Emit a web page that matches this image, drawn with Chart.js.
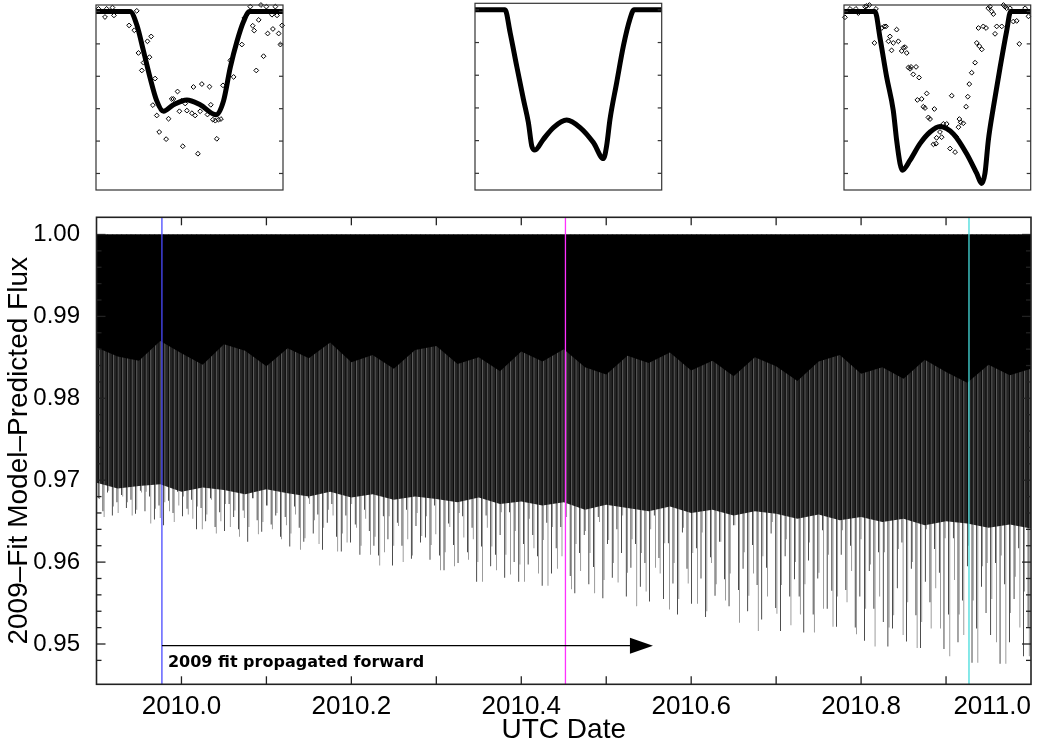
<!DOCTYPE html>
<html>
<head>
<meta charset="utf-8">
<script src="https://cdn.jsdelivr.net/npm/chart.js@4"></script>
<style>
  html, body { margin: 0; padding: 0; background: #fff; overflow: hidden; }
  #wrap { position: relative; width: 1038px; height: 740px; }
  canvas { position: absolute; }
</style>
</head>
<body>
<div id="wrap">
  <canvas id="main" width="1038" height="740" style="left:0;top:0"></canvas>
  <canvas id="in1" width="204" height="196" style="left:88px;top:0"></canvas>
  <canvas id="in2" width="204" height="196" style="left:467px;top:0"></canvas>
  <canvas id="in3" width="204" height="196" style="left:836px;top:0"></canvas>
</div>
<script>
// ---- main panel data ----
const xMin = 2009.9, xMax = 2011.0
const yMin = 0.94508, yMax = 1.0021
const xLabelYears = [2010.0, 2010.2, 2010.4, 2010.6, 2010.8, 2011.0]
const yLabelValues = [0.95, 0.96, 0.97, 0.98, 0.99, 1.00]

// bottom of each eclipse spike, left to right (primary = black, secondary = grey)
const spikeMinima = [
  0.9678,0.9662,0.9685,0.9657,0.9673,0.9682,0.9666,0.9676,0.9659,0.9687,
  0.9662,0.9680,0.9652,0.9669,0.9645,0.9675,0.9660,0.9686,0.9656,0.9665,
  0.9676,0.9640,0.9666,0.9650,0.9678,0.9643,0.9661,0.9638,0.9671,0.9655,
  0.9640,0.9663,0.9625,0.9678,0.9651,0.9637,0.9669,0.9646,0.9657,0.9631,
  0.9655,0.9619,0.9668,0.9642,0.9625,0.9678,0.9635,0.9658,0.9615,0.9648,
  0.9671,0.9631,0.9613,0.9657,0.9624,0.9646,0.9609,0.9664,0.9638,0.9620,
  0.9608,0.9656,0.9628,0.9596,0.9648,0.9620,0.9664,0.9604,0.9644,0.9624,
  0.9630,0.9603,0.9669,0.9608,0.9590,0.9647,0.9621,0.9599,0.9656,0.9612,
  0.9642,0.9576,0.9619,0.9657,0.9595,0.9609,0.9633,0.9581,0.9661,0.9600,
  0.9576,0.9622,0.9597,0.9633,0.9607,0.9571,0.9648,0.9586,0.9617,0.9643,
  0.9649,0.9583,0.9562,0.9611,0.9633,0.9573,0.9594,0.9655,0.9556,0.9622,
  0.9581,0.9640,0.9611,0.9558,0.9593,0.9622,0.9570,0.9599,0.9552,0.9657,
  0.9605,0.9555,0.9623,0.9574,0.9536,0.9636,0.9592,0.9549,0.9617,0.9580,
  0.9533,0.9606,0.9559,0.9625,0.9579,0.9546,0.9645,0.9566,0.9592,0.9540,
  0.9621,0.9572,0.9530,0.9593,0.9635,0.9544,0.9516,0.9607,0.9558,0.9579,
  0.9558,0.9514,0.9602,0.9536,0.9580,0.9639,0.9543,0.9565,0.9521,0.9609,
  0.9566,0.9620,0.9520,0.9558,0.9504,0.9589,0.9543,0.9612,0.9527,0.9497,
  0.9519,0.9568,0.9624,0.9503,0.9592,0.9535,0.9495,0.9576,0.9551,0.9616,
  0.9587,0.9494,0.9536,0.9629,0.9502,0.9553,0.9595,0.9477,0.9519,0.9570,
  0.9538,0.9511,0.9599,0.9476,0.9573,0.9502,0.9555,0.9617,0.9485,0.9520
]
const spikeMinimaB = [
  0.9677,0.9655,0.9687,0.9668,0.9660,0.9680,0.9673,0.9657,0.9664,0.9685,
  0.9686,0.9647,0.9665,0.9654,0.9673,0.9662,0.9649,0.9669,0.9680,0.9658,
  0.9653,0.9668,0.9640,0.9658,0.9676,0.9635,0.9650,0.9671,0.9643,0.9663,
  0.9631,0.9654,0.9643,0.9678,0.9634,0.9649,0.9669,0.9640,0.9660,0.9628,
  0.9645,0.9635,0.9658,0.9615,0.9629,0.9671,0.9651,0.9622,0.9642,0.9664,
  0.9657,0.9613,0.9635,0.9624,0.9671,0.9642,0.9620,0.9653,0.9609,0.9631,
  0.9596,0.9612,0.9656,0.9620,0.9644,0.9600,0.9628,0.9608,0.9660,0.9632,
  0.9656,0.9621,0.9634,0.9590,0.9612,0.9643,0.9595,0.9660,0.9630,0.9603,
  0.9628,0.9600,0.9576,0.9642,0.9619,0.9590,0.9661,0.9609,0.9585,0.9638,
  0.9597,0.9576,0.9653,0.9617,0.9586,0.9627,0.9571,0.9643,0.9592,0.9607,
  0.9655,0.9567,0.9622,0.9589,0.9638,0.9611,0.9562,0.9649,0.9578,0.9627,
  0.9599,0.9575,0.9657,0.9587,0.9628,0.9546,0.9611,0.9564,0.9640,0.9593,
  0.9586,0.9623,0.9542,0.9599,0.9555,0.9642,0.9574,0.9611,0.9549,0.9636,
  0.9540,0.9599,0.9573,0.9625,0.9553,0.9586,0.9645,0.9526,0.9612,0.9559,
  0.9586,0.9516,0.9607,0.9558,0.9649,0.9537,0.9572,0.9628,0.9523,0.9600,
  0.9536,0.9573,0.9624,0.9514,0.9587,0.9543,0.9609,0.9521,0.9558,0.9639,
  0.9551,0.9589,0.9512,0.9628,0.9543,0.9597,0.9497,0.9558,0.9612,0.9520,
  0.9535,0.9616,0.9511,0.9551,0.9600,0.9495,0.9527,0.9640,0.9519,0.9568,
  0.9519,0.9629,0.9485,0.9578,0.9536,0.9511,0.9620,0.9553,0.9477,0.9595,
  0.9599,0.9555,0.9502,0.9608,0.9476,0.9538,0.9582,0.9520,0.9564,0.9485
]

// dates at which the edges of the dark layers were read
const layerDates = [2009.9, 2009.925, 2009.95, 2009.975, 2010.0, 2010.025, 2010.05, 2010.075, 2010.1, 2010.125,
  2010.15, 2010.175, 2010.2, 2010.225, 2010.25, 2010.275, 2010.3, 2010.325, 2010.35, 2010.375,
  2010.4, 2010.425, 2010.45, 2010.475, 2010.5, 2010.525, 2010.55, 2010.575, 2010.6, 2010.625,
  2010.65, 2010.675, 2010.7, 2010.725, 2010.75, 2010.775, 2010.8, 2010.825, 2010.85, 2010.875,
  2010.9, 2010.925, 2010.95, 2010.975, 2011.0]
// lower edge of the dense grey band
const bandFloor = [0.9697,0.9690,0.9693,0.9695,0.9686,0.9691,0.9688,0.9683,0.9689,0.9684,
  0.9680,0.9686,0.9679,0.9683,0.9676,0.9680,0.9677,0.9673,0.9679,0.9671,
  0.9674,0.9669,0.9673,0.9664,0.9670,0.9666,0.9662,0.9668,0.9660,0.9664,
  0.9657,0.9662,0.9659,0.9653,0.9658,0.9651,0.9655,0.9649,0.9653,0.9645,
  0.9650,0.9647,0.9642,0.9646,0.9641]
// lower edge of the solid black area
const blackFloor = [0.9862,0.9851,0.9846,0.9870,0.9855,0.9841,0.9866,0.9858,0.9839,0.9861,
  0.9849,0.9868,0.9844,0.9853,0.9836,0.9859,0.9864,0.9842,0.9850,0.9833,
  0.9857,0.9845,0.9860,0.9838,0.9829,0.9852,0.9843,0.9856,0.9834,0.9846,
  0.9827,0.9850,0.9839,0.9821,0.9845,0.9853,0.9830,0.9838,0.9824,0.9847,
  0.9832,0.9819,0.9841,0.9828,0.9836]

const markerDates = [2009.977, 2010.452, 2010.927]
const markerColors = ['#4a4aff', '#ff30ff', '#45dcdc']

const arrowStart = 2009.977, arrowTip = 2010.555, arrowFlux = 0.9498
const arrowLabel = '2009 fit propagated forward'

// ---- inset data (x = position across the eclipse window, y = flux) ----
const insetTicks = [1.00, 0.99, 0.98, 0.97, 0.96, 0.95]

const model1X = [0, 0.182, 0.218, 0.254, 0.289, 0.325, 0.361, 0.414, 0.486, 0.557, 0.643, 0.682, 0.718, 0.754, 0.789, 0.821, 1]
const model1Y = [1.0, 1.0, 0.9959, 0.9878, 0.9796, 0.9724, 0.9692, 0.9712, 0.9727, 0.9712, 0.9681, 0.9724, 0.9827, 0.9908, 0.9969, 1.0, 1.0]
const obs1X = [0.013,0.048,0.057,0.088,0.096,0.177,0.205,0.218,0.227,0.245,0.254,0.275,0.286,0.295,0.316,0.304,0.325,0.338,0.352,0.375,
  0.388,0.405,0.414,0.436,0.446,0.459,0.464,0.477,0.486,0.513,0.521,0.530,0.545,0.557,0.566,0.596,0.607,0.614,0.625,0.638,
  0.646,0.655,0.668,0.679,0.718,0.736,0.780,0.793,0.807,0.825,0.838,0.846,0.857,0.870,0.882,0.896,0.911,0.918,0.946,0.959,
  0.968,0.977,0.986,0.995,0.941]
const obs1Y = [1.0008,0.9983,1.0008,1.0012,0.9988,0.9957,0.9942,1.0002,0.9872,0.9818,0.9842,0.9908,0.9859,0.9923,0.9793,0.9711,0.9679,0.9628,0.9694,0.9606,
  0.9669,0.9730,0.9730,0.9753,0.9692,0.9724,0.9584,0.9716,0.9694,0.9686,0.9767,0.9679,0.9561,0.9692,0.9776,0.9682,0.9768,0.9712,0.9666,0.9663,
  0.9607,0.9666,0.9668,0.9772,0.9849,0.9798,0.9898,0.9980,0.9990,1.0015,0.9956,0.9941,0.9818,0.9974,1.0020,0.9862,1.0015,0.9932,0.9946,1.0015,
  0.9988,0.9932,0.9898,0.9957,0.9990]

const model2X = [0, 0.161, 0.188, 0.223, 0.259, 0.286, 0.304, 0.321, 0.366, 0.420, 0.491, 0.563, 0.634, 0.688, 0.705, 0.723, 0.759, 0.795, 0.830, 0.852, 1]
const model2Y = [1.0, 1.0, 0.9931, 0.9829, 0.9727, 0.9655, 0.9584, 0.9571, 0.9604, 0.9640, 0.9663, 0.9640, 0.9594, 0.9545, 0.9584, 0.9665, 0.9778, 0.9890, 0.9972, 1.0, 1.0]

const model3X = [0, 0.166, 0.193, 0.229, 0.264, 0.282, 0.300, 0.3125, 0.354, 0.407, 0.461, 0.514, 0.586, 0.657, 0.711, 0.7375, 0.755, 0.773, 0.800, 0.836, 0.871, 0.893, 1]
const model3Y = [1.0, 1.0, 0.9918, 0.9796, 0.9694, 0.9602, 0.9531, 0.9510, 0.9541, 0.9592, 0.9628, 0.9645, 0.9622, 0.9561, 0.9500, 0.9469, 0.9500, 0.9602, 0.9704, 0.9827, 0.9939, 1.0, 1.0]
const obs3X = [0.005,0.032,0.064,0.077,0.113,0.121,0.136,0.171,0.163,0.202,0.216,0.225,0.246,0.238,0.255,0.264,0.282,0.291,0.309,0.318,
  0.327,0.336,0.345,0.354,0.359,0.371,0.386,0.402,0.443,0.393,0.416,0.425,0.434,0.452,0.461,0.484,0.532,0.550,0.514,0.496,
  0.479,0.493,0.523,0.568,0.595,0.600,0.618,0.625,0.639,0.613,0.577,0.654,0.663,0.671,0.684,0.702,0.711,0.725,0.738,0.720,
  0.746,0.761,0.773,0.782,0.791,0.800,0.809,0.818,0.845,0.854,0.863,0.871,0.889,0.907,0.925,0.939,0.988,0.970]
const obs3Y = [0.9982,1.0008,1.0008,0.9995,1.0015,1.0017,1.0020,1.0008,0.9903,0.9949,0.9954,0.9954,0.9923,0.9908,0.9880,0.9903,0.9944,0.9908,0.9878,0.9888,
  0.9890,0.9872,0.9827,0.9823,0.9829,0.9806,0.9829,0.9796,0.9747,0.9727,0.9730,0.9706,0.9702,0.9673,0.9668,0.9699,0.9653,0.9653,0.9628,0.9610,
  0.9590,0.9592,0.9612,0.9577,0.9566,0.9614,0.9668,0.9658,0.9655,0.9643,0.9740,0.9706,0.9737,0.9776,0.9811,0.9842,0.9903,0.9893,0.9883,0.9949,
  0.9954,0.9949,1.0010,1.0015,1.0000,0.9992,0.9931,0.9954,0.9954,1.0020,1.0015,1.0010,1.0010,0.9969,0.9971,0.9900,0.9985,1.0010]

Chart.defaults.font.family = '"Liberation Sans", Arial, Helvetica, sans-serif'
Chart.defaults.color = '#000'

const near = (v, step) => Math.abs(v / step - Math.round(v / step)) < 1e-6
const pts = (xs, ys) => xs.map((x, i) => ({x: x, y: ys[i]}))

function tickLine(ctx, x0, y0, x1, y1){
  ctx.beginPath(); ctx.moveTo(x0, y0); ctx.lineTo(x1, y1); ctx.stroke()
}

// frame, inward ticks and the arrow for the big panel
const mainDecor = {
  id: 'mainDecor',
  afterDatasetsDraw(chart){
    const {ctx, chartArea: a} = chart
    const x = chart.scales.x, y = chart.scales.y
    ctx.save()
    // arrow + label
    const ax0 = x.getPixelForValue(arrowStart), ax1 = x.getPixelForValue(arrowTip), ay = y.getPixelForValue(arrowFlux)
    ctx.strokeStyle = '#000'; ctx.fillStyle = '#000'; ctx.lineWidth = 1.3
    tickLine(ctx, ax0, ay, ax1 - 20, ay)
    ctx.beginPath(); ctx.moveTo(ax1, ay); ctx.lineTo(ax1 - 23, ay - 8); ctx.lineTo(ax1 - 23, ay + 8); ctx.closePath(); ctx.fill()
    ctx.font = 'bold 16px "DejaVu Sans"'
    ctx.textBaseline = 'alphabetic'; ctx.textAlign = 'left'
    ctx.fillText(arrowLabel, ax0 + 6, ay + 21)
    // frame
    ctx.strokeStyle = '#222'; ctx.lineWidth = 1.6
    ctx.strokeRect(a.left, a.top, a.right - a.left, a.bottom - a.top)
    // ticks
    ctx.lineWidth = 1.3
    x.ticks.forEach(t => {
      if (t.value <= xMin + 1e-6 || t.value >= xMax - 1e-6) return
      const px = x.getPixelForValue(t.value)
      tickLine(ctx, px, a.bottom, px, a.bottom - 8)
      tickLine(ctx, px, a.top, px, a.top + 8)
    })
    y.ticks.forEach(t => {
      if (!near(t.value, 0.002)) return
      const len = near(t.value, 0.01) ? 9 : 5
      const py = y.getPixelForValue(t.value)
      tickLine(ctx, a.left, py, a.left + len, py)
      tickLine(ctx, a.right, py, a.right - len, py)
    })
    ctx.restore()
  }
}

const lineBase = {type: 'line', pointRadius: 0, borderWidth: 0, borderColor: 'rgba(0,0,0,0)', xAxisID: 'x', yAxisID: 'y'}
const barBase = {type: 'bar', xAxisID: 'xd', yAxisID: 'y', borderWidth: 0, barPercentage: 0.6, categoryPercentage: 1, order: 4}

new Chart(document.getElementById('main'), {
  type: 'line',
  data: {
    datasets: [
      {...lineBase, label: 'band', data: pts(layerDates, bandFloor), fill: {value: 1.0}, backgroundColor: '#262626', order: 5},
      {...barBase, label: 'eclipses A', data: spikeMinima.map(v => [v, 1.0]), backgroundColor: '#000000'},
      {...barBase, label: 'eclipses B', data: spikeMinimaB.map(v => [v, 1.0]), backgroundColor: '#727272'},
      {...lineBase, label: 'solid', data: pts(layerDates, blackFloor), fill: {value: 1.0}, backgroundColor: '#000', order: 3},
      ...markerDates.map((d, i) => ({
        ...lineBase, label: 'marker' + i, data: [{x: d, y: yMin}, {x: d, y: yMax}],
        borderColor: markerColors[i], borderWidth: 1.3, fill: false, order: 2
      }))
    ]
  },
  options: {
    responsive: false,
    animation: false,
    events: [],
    layout: {padding: {top: 217.3, right: 6.5, left: 0, bottom: 0}},
    plugins: {legend: {display: false}, tooltip: {enabled: false}},
    scales: {
      x: {
        type: 'linear', position: 'bottom', min: xMin, max: xMax,
        grid: {display: false, drawTicks: false}, border: {display: false},
        ticks: {
          stepSize: 0.1, maxTicksLimit: 1000, autoSkip: false, maxRotation: 0, minRotation: 0,
          align: 'inner', padding: 7, font: {size: 26}, color: '#000',
          callback: v => xLabelYears.some(t => Math.abs(t - v) < 1e-6) ? v.toFixed(1) : ''
        },
        title: {display: true, text: 'UTC Date', font: {size: 28, lineHeight: 1}, color: '#000', padding: {top: 0, bottom: -4}},
        afterFit: s => { s.height = 55.7 }
      },
      xd: {
        type: 'category', position: 'bottom', display: false, offset: true,
        labels: spikeMinima.map((v, i) => String(i))
      },
      y: {
        type: 'linear', min: yMin, max: yMax,
        grid: {display: false, drawTicks: false}, border: {display: false},
        ticks: {
          stepSize: 0.002, maxTicksLimit: 1000, autoSkip: false, padding: 16.5, font: {size: 24}, color: '#000',
          callback: v => yLabelValues.some(t => Math.abs(t - v) < 1e-6) ? v.toFixed(2) : ''
        },
        title: {display: true, text: '2009\u2013Fit Model\u2013Predicted Flux', font: {size: 28, lineHeight: 1}, color: '#000', padding: {top: 5, bottom: 0}},
        afterFit: s => { s.width = 96.5 }
      }
    }
  },
  plugins: [mainDecor]
})

// ---- insets ----
const insetDecor = {
  id: 'insetDecor',
  afterDatasetsDraw(chart){
    const {ctx, chartArea: a} = chart
    const y = chart.scales.y
    ctx.save()
    ctx.strokeStyle = '#333'; ctx.lineWidth = 1.2
    ctx.strokeRect(a.left, a.top, a.right - a.left, a.bottom - a.top)
    insetTicks.forEach(v => {
      const py = y.getPixelForValue(v)
      tickLine(ctx, a.left, py, a.left + 4, py)
      tickLine(ctx, a.right, py, a.right - 4, py)
    })
    ctx.restore()
  }
}

function makeInset(id, padRight, mx, my, ox, oy){
  const datasets = [{
    type: 'line', data: pts(mx, my), borderColor: '#000', borderWidth: 5, pointRadius: 0,
    cubicInterpolationMode: 'monotone', borderJoinStyle: 'round', borderCapStyle: 'round', fill: false, order: 2
  }]
  if (ox) datasets.push({
    type: 'line', showLine: false, data: pts(ox, oy), pointStyle: 'rectRot', pointRadius: 2.4,
    pointBorderWidth: 1, pointBorderColor: '#000', pointBackgroundColor: 'rgba(255,255,255,0)', clip: false, order: 1
  })
  new Chart(document.getElementById(id), {
    type: 'line',
    data: {datasets: datasets},
    options: {
      responsive: false, animation: false, events: [],
      layout: {padding: {left: 8, right: padRight, top: 3.3, bottom: 6}},
      plugins: {legend: {display: false}, tooltip: {enabled: false}},
      scales: {
        x: {type: 'linear', min: 0, max: 1, display: false},
        y: {type: 'linear', min: 0.9449, max: 1.002, display: false}
      }
    },
    plugins: [insetDecor]
  })
}

makeInset('in1', 9, model1X, model1Y, obs1X, obs1Y)
makeInset('in2', 9.3, model2X, model2Y)
makeInset('in3', 9.3, model3X, model3Y, obs3X, obs3Y)
</script>
</body>
</html>
